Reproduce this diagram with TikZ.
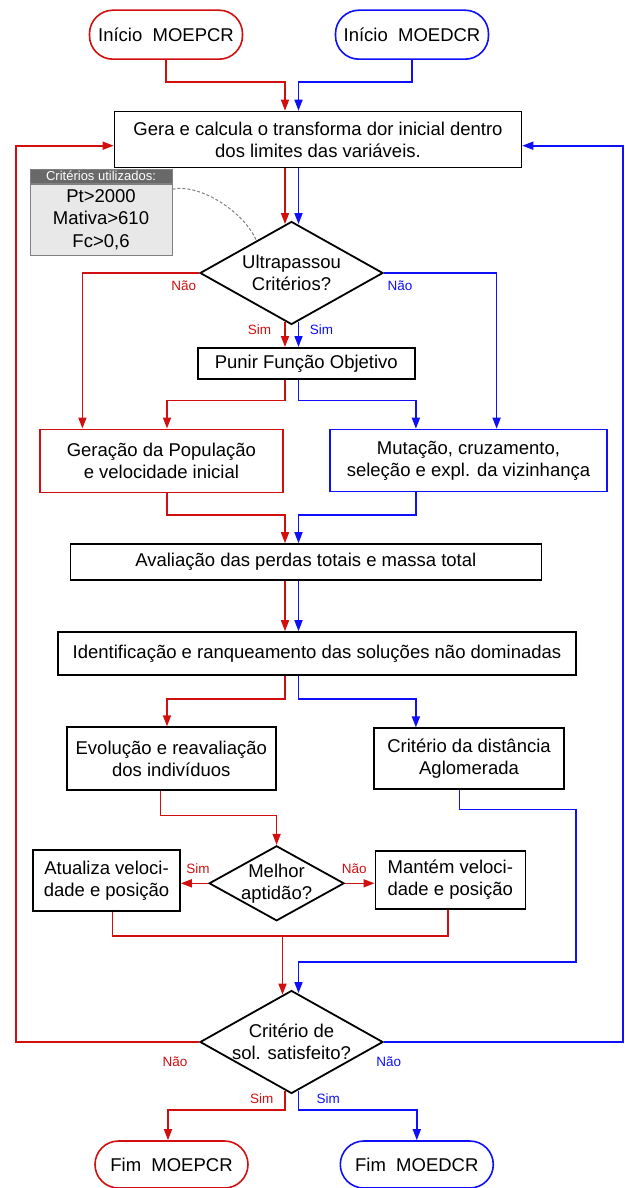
\documentclass[tikz,border=0pt]{standalone}
\usepackage{fontspec}
\setmainfont{Liberation Sans}
\usetikzlibrary{arrows.meta,shapes.geometric,calc}

\definecolor{moeRed}{RGB}{210,15,15}
\definecolor{moeBlue}{RGB}{15,15,250}
\definecolor{hdrGray}{RGB}{105,105,105}
\definecolor{bodyGray}{RGB}{232,232,232}

\begin{document}
\begin{tikzpicture}[
  x=1pt, y=-1pt,
  font=\fontsize{18.5}{22}\selectfont, >={Triangle[length=11pt,width=8pt]},
  blk/.style={draw=black, line width=1.6pt, align=center, inner sep=0pt},
  proc/.style={blk, rectangle},
  term/.style={blk, rectangle, rounded corners=23.5pt, minimum height=49pt, minimum width=153pt},
  dec/.style={blk, diamond, aspect=1.8, inner sep=-10pt, line width=1.8pt},
  rl/.style={draw=moeRed, line width=1.6pt},
  bl/.style={draw=moeBlue, line width=1.6pt},
  ra/.style={rl, ->},
  ba/.style={bl, ->},
  lbl/.style={font=\fontsize{13.5}{15}\selectfont, inner sep=0pt},
]
\useasboundingbox (0,0) rectangle (624,1188);
% ---------------- blocks ----------------
\node[term, draw=moeRed] (iniP) at (166,34.7) {Início\ \ MOEPCR};
\node[term, draw=moeBlue] (iniD) at (412,34.7) {Início\ \ MOEDCR};
\node[proc, minimum width=407pt, minimum height=56pt] (gera) at (318,139.5)
  {Gera e calcula o transforma dor inicial dentro\\dos limites das variáveis.};
\node[draw=gray, line width=1pt, fill=bodyGray, minimum width=142pt, minimum height=71pt, align=center,
  inner sep=0pt, font=\fontsize{18.5}{22.5}\selectfont] (critBody) at (101,219.7)
  {Pt>2000\\Mativa>610\\Fc>0,6};
\node[draw=gray, line width=1pt, fill=hdrGray, text=white, minimum width=142pt, minimum height=14pt,
  inner sep=0pt, font=\fontsize{13}{14}\selectfont, anchor=south] (critHead)
  at (critBody.north) {Critérios utilizados:};
\node[dec, minimum width=183pt, minimum height=103pt] (ultra) at (291.5,273) {Ultrapassou\\Critérios?};
\node[proc, minimum width=217pt, minimum height=31pt] (punir) at (306.3,363.3) {Punir Função Objetivo};
\node[proc, draw=moeRed, minimum width=243pt, minimum height=63pt] (gerPop) at (161.4,460.8)
  {Geração da População\\e velocidade inicial};
\node[proc, draw=moeBlue, minimum width=276.5pt, minimum height=62pt] (mut) at (468.5,460.5)
  {Mutação, cruzamento,\\seleção e expl. da vizinhança};
\node[proc, minimum width=471pt, minimum height=36pt] (aval) at (305.8,562)
  {Avaliação das perdas totais e massa total};
\node[proc, minimum width=518.5pt, minimum height=43pt] (ident) at (317,653.5)
  {Identificação e ranqueamento das soluções não dominadas};
\node[proc, minimum width=209pt, minimum height=63pt] (evol) at (171.3,758.7)
  {Evolução e reavaliação\\dos indivíduos};
\node[proc, minimum width=190pt, minimum height=61pt] (dist) at (469,758.7)
  {Critério da distância\\Aglomerada};
\node[dec, minimum width=135pt, minimum height=75pt] (melhor) at (276.6,883.3) {Melhor\\aptidão?};
\node[proc, minimum width=147pt, minimum height=61pt] (atual) at (106.5,880.3)
  {Atualiza veloci-\\dade e posição};
\node[proc, minimum width=150pt, minimum height=58pt] (mant) at (450.3,880)
  {Mantém veloci-\\dade e posição};
\node[dec, minimum width=183pt, minimum height=103pt] (sol) at (291.5,1042) {Critério de\\sol. satisfeito?};
\node[term, draw=moeRed, minimum height=47pt] (fimP) at (171.5,1164.5) {Fim\ \ MOEPCR};
\node[term, draw=moeBlue, minimum height=47pt] (fimD) at (416.8,1164.5) {Fim\ \ MOEDCR};
% ---------------- helper coordinates ----------------
\coordinate (rx) at (285,0);
\coordinate (bx) at (298.5,0);
\coordinate (lf) at (15.9,0);
\coordinate (rf) at (622.8,0);
\coordinate (gW) at ([yshift=-6.2pt]gera.west);
\coordinate (gE) at ([yshift=-6.2pt]gera.east);
\coordinate (jR) at (282.5,935.7);
\coordinate (bR) at (576.2,809.3);
% ---------------- connectors ----------------
\draw[ra] (iniP.south) -- ++(0,22) -| (gera.north -| rx);
\draw[ba] (iniD.south) -- ++(0,22) -| (gera.north -| bx);
\draw[ra] (gera.south -| rx) -- ($(ultra.north -| rx)+(0,3.5)$);
\draw[ba] (gera.south -| bx) -- ($(ultra.north -| bx)+(0,3.5)$);
\draw[gray, dash pattern=on 3pt off 2pt, line width=1pt] ([yshift=30.5pt]critBody.east)
  .. controls +(28,-6) and +(-12,-28) .. ($(ultra.north)!0.38!(ultra.west)$);
\draw[ra] (ultra.west) -| ([xshift=-79pt]gerPop.north);
\draw[ba] (ultra.east) -| ([xshift=28.1pt]mut.north);
\draw[ra] ($(ultra.south -| rx)+(0,-3.5)$) -- (punir.north -| rx);
\draw[ba] ($(ultra.south -| bx)+(0,-3.5)$) -- (punir.north -| bx);
\draw[ra] (punir.south -| rx) -- ++(0,21) -| ([xshift=5.6pt]gerPop.north);
\draw[ba] (punir.south -| bx) -- ++(0,21) -| ([xshift=-52.6pt]mut.north);
\draw[ra] ([xshift=5.6pt]gerPop.south) -- ++(0,21.7) -| (aval.north -| rx);
\draw[ba] ([xshift=-52.6pt]mut.south) -- ++(0,22.5) -| (aval.north -| bx);
\draw[ra] (aval.south -| rx) -- (ident.north -| rx);
\draw[ba] (aval.south -| bx) -- (ident.north -| bx);
\draw[ra] (ident.south -| rx) -- ++(0,23) -| ([xshift=-4.3pt]evol.north);
\draw[ba] (ident.south -| bx) -- ++(0,23) -| ([xshift=-53.1pt]dist.north);
\draw[ra] ([xshift=-10.9pt]evol.south) -- ++(0,24.5) -| (melhor.north);
\draw[ra] (melhor.west) -- (melhor.west -| atual.east);
\draw[ra] (melhor.east) -- (melhor.east -| mant.west);
\draw[rl] ([xshift=6.1pt]atual.south) |- (jR) -| ([xshift=-2.6pt]mant.south);
\draw[ra] (jR) -- ($(sol.north -| jR)+(0,5)$);
\draw[ba] ([xshift=-9.4pt]dist.south) |- (bR) |- ($(sol.north -| bx)+(0,-27.5)$)
  -- ($(sol.north -| bx)+(0,3.5)$);
\draw[ra] (sol.west) -| (lf |- gW) -- (gW);
\draw[ba] (sol.east) -| (rf |- gE) -- (gE);
\draw[ra] ($(sol.south -| rx)+(0,-3.5)$) |- ($(fimP.north)+(-3.5,-30)$) -- ($(fimP.north)+(-3.5,0)$);
\draw[ba] ($(sol.south -| bx)+(0,-3.5)$) |- ($(fimD.north)+(0,-30)$) -- (fimD.north);
% ---------------- labels ----------------
\node[lbl, text=moeRed] (naoU1) at (183.8,286) {Não};
\node[lbl, text=moeBlue] (naoU2) at (400,286) {Não};
\node[lbl, text=moeRed] (simU1) at (259.5,329.3) {Sim};
\node[lbl, text=moeBlue] (simU2) at (321.5,329.3) {Sim};
\node[lbl, text=moeRed] (simM) at (198,869) {Sim};
\node[lbl, text=moeRed] (naoM) at (354.2,869) {Não};
\node[lbl, text=moeRed] (naoS1) at (175,1061.7) {Não};
\node[lbl, text=moeBlue] (naoS2) at (388.8,1061.7) {Não};
\node[lbl, text=moeRed] (simS1) at (261.8,1099) {Sim};
\node[lbl, text=moeBlue] (simS2) at (328.3,1099) {Sim};
\end{tikzpicture}
\end{document}
